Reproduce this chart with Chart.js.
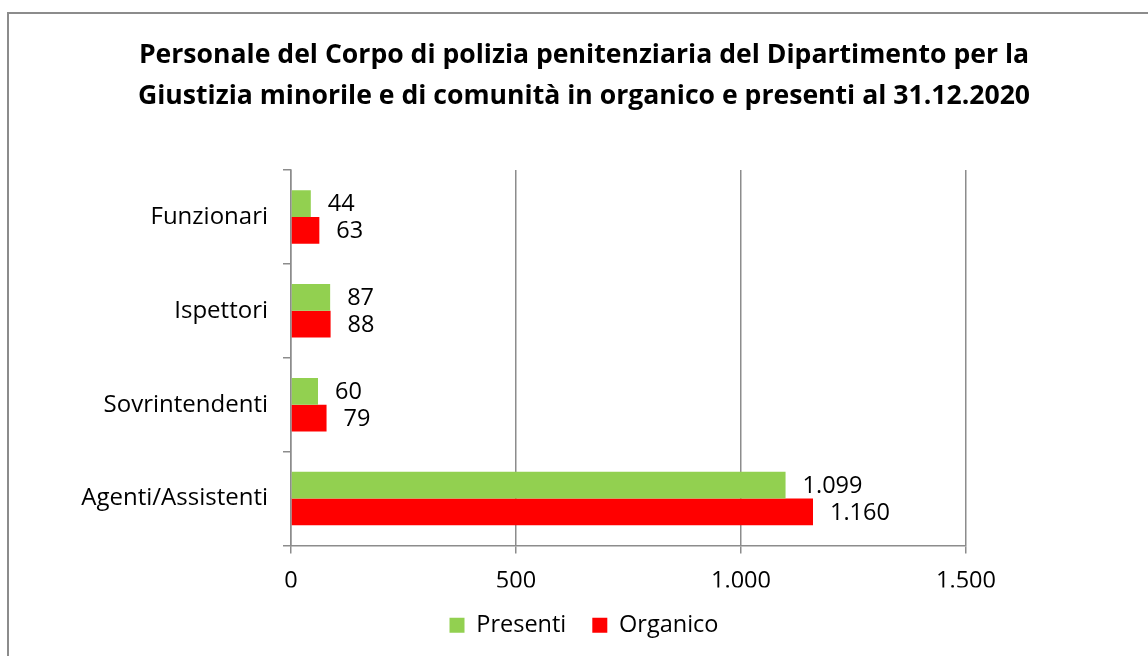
<!DOCTYPE html>
<html><head><meta charset="utf-8">
<script src="https://cdn.jsdelivr.net/npm/chart.js@4.4.1/dist/chart.umd.min.js"></script>
<style>
html,body{margin:0;padding:0;background:#fff;overflow:hidden;width:1148px;height:656px;}
#frame{position:absolute;left:7px;top:12px;width:1200px;height:700px;border:2px solid #8c8c8c;box-sizing:border-box;}
#wrap{position:absolute;left:0;top:0;width:1148px;height:656px;}
</style></head><body>
<div id="frame"></div>
<div id="wrap"><canvas id="c" width="1148" height="656"></canvas></div>
<script>
const categories = ['Funzionari', 'Ispettori', 'Sovrintendenti', 'Agenti/Assistenti'];
const presenti = [44, 87, 60, 1099];
const organico = [63, 88, 79, 1160];
const seriesNames = ['Presenti', 'Organico'];
const xMin = 0, xMax = 1500, xStep = 500;
const titleLines = [
  'Personale del Corpo di polizia penitenziaria del Dipartimento per la',
  'Giustizia minorile e di comunità in organico e presenti al 31.12.2020'
];

const FONT = "'Open Sans', sans-serif";
const GRID = '#8c8c8c';
const fmt = v => String(v).replace(/\B(?=(\d{3})+(?!\d))/g, '.');

const valueLabels = {
  id: 'valueLabels',
  afterDatasetsDraw(chart) {
    const ctx = chart.ctx;
    ctx.save();
    ctx.font = "23.5px " + FONT;
    ctx.fillStyle = '#000';
    ctx.textAlign = 'left';
    ctx.textBaseline = 'middle';
    chart.data.datasets.forEach((ds, i) => {
      chart.getDatasetMeta(i).data.forEach((el, j) => {
        ctx.fillText(fmt(ds.data[j]), el.x + 17, el.y + 1);
      });
    });
    ctx.restore();
  }
};

new Chart(document.getElementById('c'), {
  type: 'bar',
  data: {
    labels: categories,
    datasets: [
      { label: seriesNames[0], data: presenti, backgroundColor: '#92D050', borderWidth: 0 },
      { label: seriesNames[1], data: organico, backgroundColor: '#FF0000', borderWidth: 0 }
    ]
  },
  options: {
    indexAxis: 'y',
    responsive: false,
    animation: false,
    devicePixelRatio: 1,
    categoryPercentage: 0.57,
    barPercentage: 1.0,
    layout: { padding: { left: 20, right: 0, top: 0, bottom: 9 } },
    scales: {
      x: {
        min: xMin, max: xMax,
        ticks: { stepSize: xStep, color: '#000', font: { family: FONT, size: 23.5 }, padding: 14, callback: v => fmt(v) },
        grid: { color: GRID, lineWidth: 1.5, tickLength: 8, drawTicks: true },
        border: { color: GRID, width: 1.5 },
        afterFit(s) { s.height = 42; s.paddingRight = 182; }
      },
      y: {
        ticks: { color: '#000', font: { family: FONT, size: 24 }, padding: 15 },
        grid: { drawOnChartArea: false, drawTicks: true, tickLength: 8, color: GRID, lineWidth: 1.5 },
        border: { color: GRID, width: 1.5 },
        afterFit(s) { s.width = 271; }
      }
    },
    plugins: {
      title: {
        display: true,
        text: titleLines,
        color: '#000',
        font: { family: FONT, size: 26.6, weight: 'bold', lineHeight: '41px' },
        padding: { top: 35, bottom: 53 }
      },
      legend: {
        display: true,
        position: 'bottom',
        maxHeight: 69,
        labels: { boxWidth: 15, boxHeight: 15, padding: 26, color: '#000', font: { family: FONT, size: 23.5 } }
      },
      tooltip: { enabled: false }
    }
  },
  plugins: [valueLabels]
});
</script>
</body></html>
